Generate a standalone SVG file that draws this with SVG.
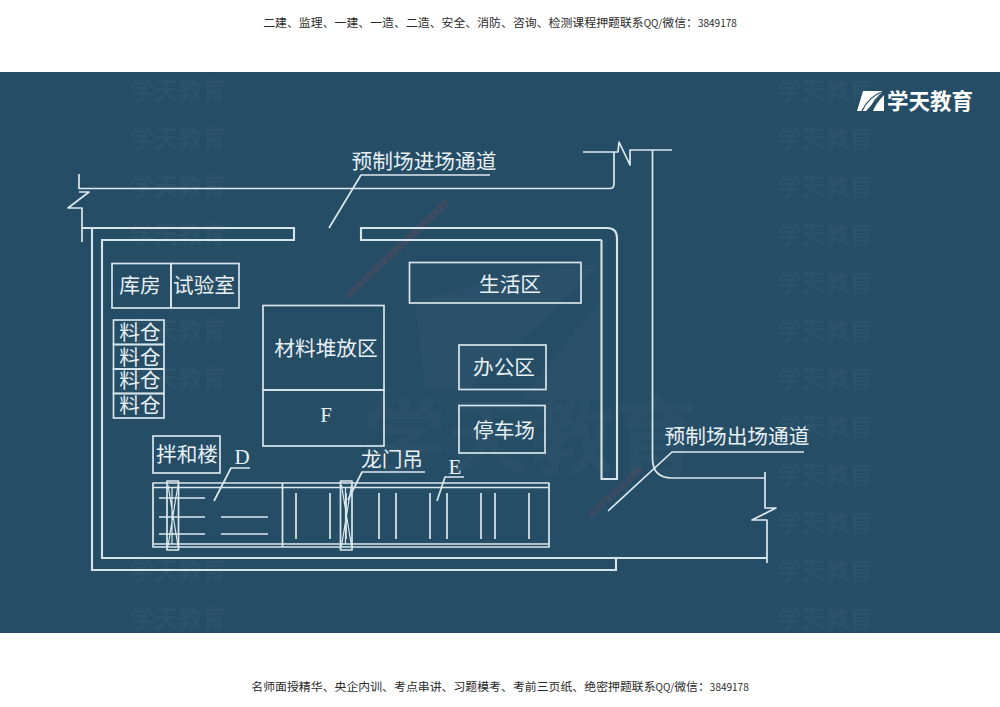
<svg xmlns="http://www.w3.org/2000/svg" width="1000" height="707" viewBox="0 0 1000 707">
<style>
text{font-family:"Noto Sans CJK SC","Noto Sans",sans-serif}
.cap{font-size:11.9px;fill:#2a2a2a;text-anchor:middle}
.cap tspan{font-size:10px}
.lab{font-size:20.7px;fill:#e8f0f4;text-anchor:middle}
.let{font-family:"Liberation Serif",serif;font-size:21px;fill:#e8f0f4;text-anchor:middle}
.wm{font-size:24px;font-weight:700;fill:#2c536b}
.box{fill:none;stroke:#d6e5ec;stroke-width:1.7}
.ln{fill:none;stroke:#dbe8ee;stroke-width:1.7;stroke-linejoin:round}
.hv{fill:none;stroke:#d6e5ec;stroke-width:2.1}
</style>
<defs>
<g id="wmr"><text class="wm" x="0" y="0">学天教育</text></g>
<g id="gantry" class="ln"><rect x="0" y="0" width="11.500" height="69"/><path d="M1 4L11 65M11 4L1 65M5 6V63" stroke-width="1.200"/></g>
</defs>
<rect width="1000" height="707" fill="#fff"/>
<rect y="72" width="1000" height="561" fill="#254d66"/>
<g id="watermarks">
<use href="#wmr" x="130" y="99"/><use href="#wmr" x="130" y="147"/><use href="#wmr" x="130" y="195"/><use href="#wmr" x="130" y="243"/><use href="#wmr" x="130" y="339"/><use href="#wmr" x="130" y="387"/><use href="#wmr" x="130" y="579"/><use href="#wmr" x="130" y="627"/>
<use href="#wmr" x="777" y="99"/><use href="#wmr" x="777" y="147"/><use href="#wmr" x="777" y="195"/><use href="#wmr" x="777" y="243"/><use href="#wmr" x="777" y="291"/><use href="#wmr" x="777" y="339"/><use href="#wmr" x="777" y="387"/><use href="#wmr" x="777" y="435"/><use href="#wmr" x="777" y="483"/><use href="#wmr" x="777" y="531"/><use href="#wmr" x="777" y="579"/><use href="#wmr" x="777" y="627"/>
<path d="M415 300L560 265H600L470 390H425ZM520 400L600 300V400Z" fill="#2a5169"/>
<text x="362" y="468" font-size="84" font-weight="700" fill="#2a5169">学天教育</text>
<path d="M347 296L447 202" stroke="#8a4a5c" stroke-opacity=".25" stroke-width="7" stroke-dasharray="6 1" fill="none"/>
<path d="M590 515L642 468" stroke="#8a4a5c" stroke-opacity=".2" stroke-width="7" stroke-dasharray="6 1" fill="none"/>
</g>
<g id="captions">
<text class="cap" x="500" y="27">二建、监理、一建、一造、二造、安全、消防、咨询、检测课程押题联系<tspan>QQ/</tspan>微信：<tspan>3849178</tspan></text>
<text class="cap" x="500" y="691">名师面授精华、央企内训、考点串讲、习题模考、考前三页纸、绝密押题联系<tspan>QQ/</tspan>微信：<tspan>3849178</tspan></text>
</g>
<g id="logo">
<path d="M863 91H884L866 111H857Z" fill="#fff"/>
<path d="M884 91C873 95 866 102 862 111M884 92C876 97 872 104 870 111" fill="none" stroke="#254d66" stroke-width="1.300"/>
<path d="M873 111C875 106 879 100 884 95V111Z" fill="#fff"/>
<text x="887" y="109" font-size="21.500" font-weight="700" fill="#fff">学天教育</text>
</g>
<g id="connectors">
<path class="ln" d="M79 174V188.500H610Q614 188.500 614 184V152H583"/>
<path class="ln" d="M79 192H89L68 208H82V242"/>
<path class="ln" d="M614 152H618L619 142L630 165V150H672"/>
<path class="ln" d="M652.500 150V458Q652.500 478 672 478H765"/>
<path class="ln" d="M765 472V508H776L752 520H767V563"/>
<path class="hv" d="M82 228H294V240H102V558H767"/>
<path class="hv" d="M92 228V570H616V558"/>
<path class="hv" d="M601.500 240H361V228H607Q617 228 617 238V479H601.500V240"/>
</g>
<g id="leaders">
<path class="ln" d="M329 228L361 175H490"/>
<path class="ln" d="M608 511L672 452H804"/>
<path class="ln" d="M214 501L231 468H250"/>
<path class="ln" d="M348 500L362 472H425"/>
<path class="ln" d="M437 501L445 477H464"/>
</g>
<g id="node-warehouse"><rect class="box" x="112" y="263.500" width="59" height="44.500"/><text class="lab" x="140" y="293">库房</text></g>
<g id="node-lab"><rect class="box" x="171" y="263.500" width="68" height="44.500"/><text class="lab" x="204" y="293">试验室</text></g>
<g id="node-bin1"><rect class="box" x="113.500" y="320" width="50.500" height="24.500"/><text class="lab" x="140" y="340">料仓</text></g>
<g id="node-bin2"><rect class="box" x="113.500" y="344.500" width="50.500" height="24.500"/><text class="lab" x="140" y="365">料仓</text></g>
<g id="node-bin3"><rect class="box" x="113.500" y="369" width="50.500" height="24.500"/><text class="lab" x="140" y="388">料仓</text></g>
<g id="node-bin4"><rect class="box" x="113.500" y="393.500" width="50.500" height="24.500"/><text class="lab" x="140" y="413">料仓</text></g>
<g id="node-material"><rect class="box" x="263" y="305.500" width="121" height="84.500"/><text class="lab" x="326" y="356">材料堆放区</text></g>
<g id="node-f"><rect class="box" x="263" y="390" width="121" height="56"/><text class="let" x="326" y="422">F</text></g>
<g id="node-living"><rect class="box" x="409.500" y="262.500" width="171.500" height="40.500"/><text class="lab" x="510" y="292">生活区</text></g>
<g id="node-office"><rect class="box" x="459" y="345" width="87" height="44.500"/><text class="lab" x="504" y="375">办公区</text></g>
<g id="node-parking"><rect class="box" x="459" y="405.500" width="86" height="47.500"/><text class="lab" x="504" y="438">停车场</text></g>
<g id="node-mixer"><rect class="box" x="153" y="436" width="67" height="37"/><text class="lab" x="187" y="462">拌和楼</text></g>
<g id="node-beds">
<path class="ln" d="M153 483H549V547H153ZM153 487.500H549M153 544H549M153 487.500V544M282.500 483V547"/>
<path class="ln" d="M159 498H205M159 517H205M159 534H205M221 517H268M221 534H268"/>
<path class="ln" d="M296 493V539M330 493V539M346 493V539M379 493V539M396 493V539M430 493V539M447 493V539M481 493V539M495 493V539M529 493V539"/>
</g>
<g id="node-gantry1"><use href="#gantry" x="167" y="481"/></g>
<g id="node-gantry2"><use href="#gantry" x="340.500" y="481"/></g>
<g id="labels">
<text class="lab" x="424" y="169">预制场进场通道</text>
<text class="lab" x="737" y="444">预制场出场通道</text>
<text class="lab" x="392" y="467">龙门吊</text>
<text class="let" x="242" y="464">D</text>
<text class="let" x="455" y="474">E</text>
</g>
</svg>
